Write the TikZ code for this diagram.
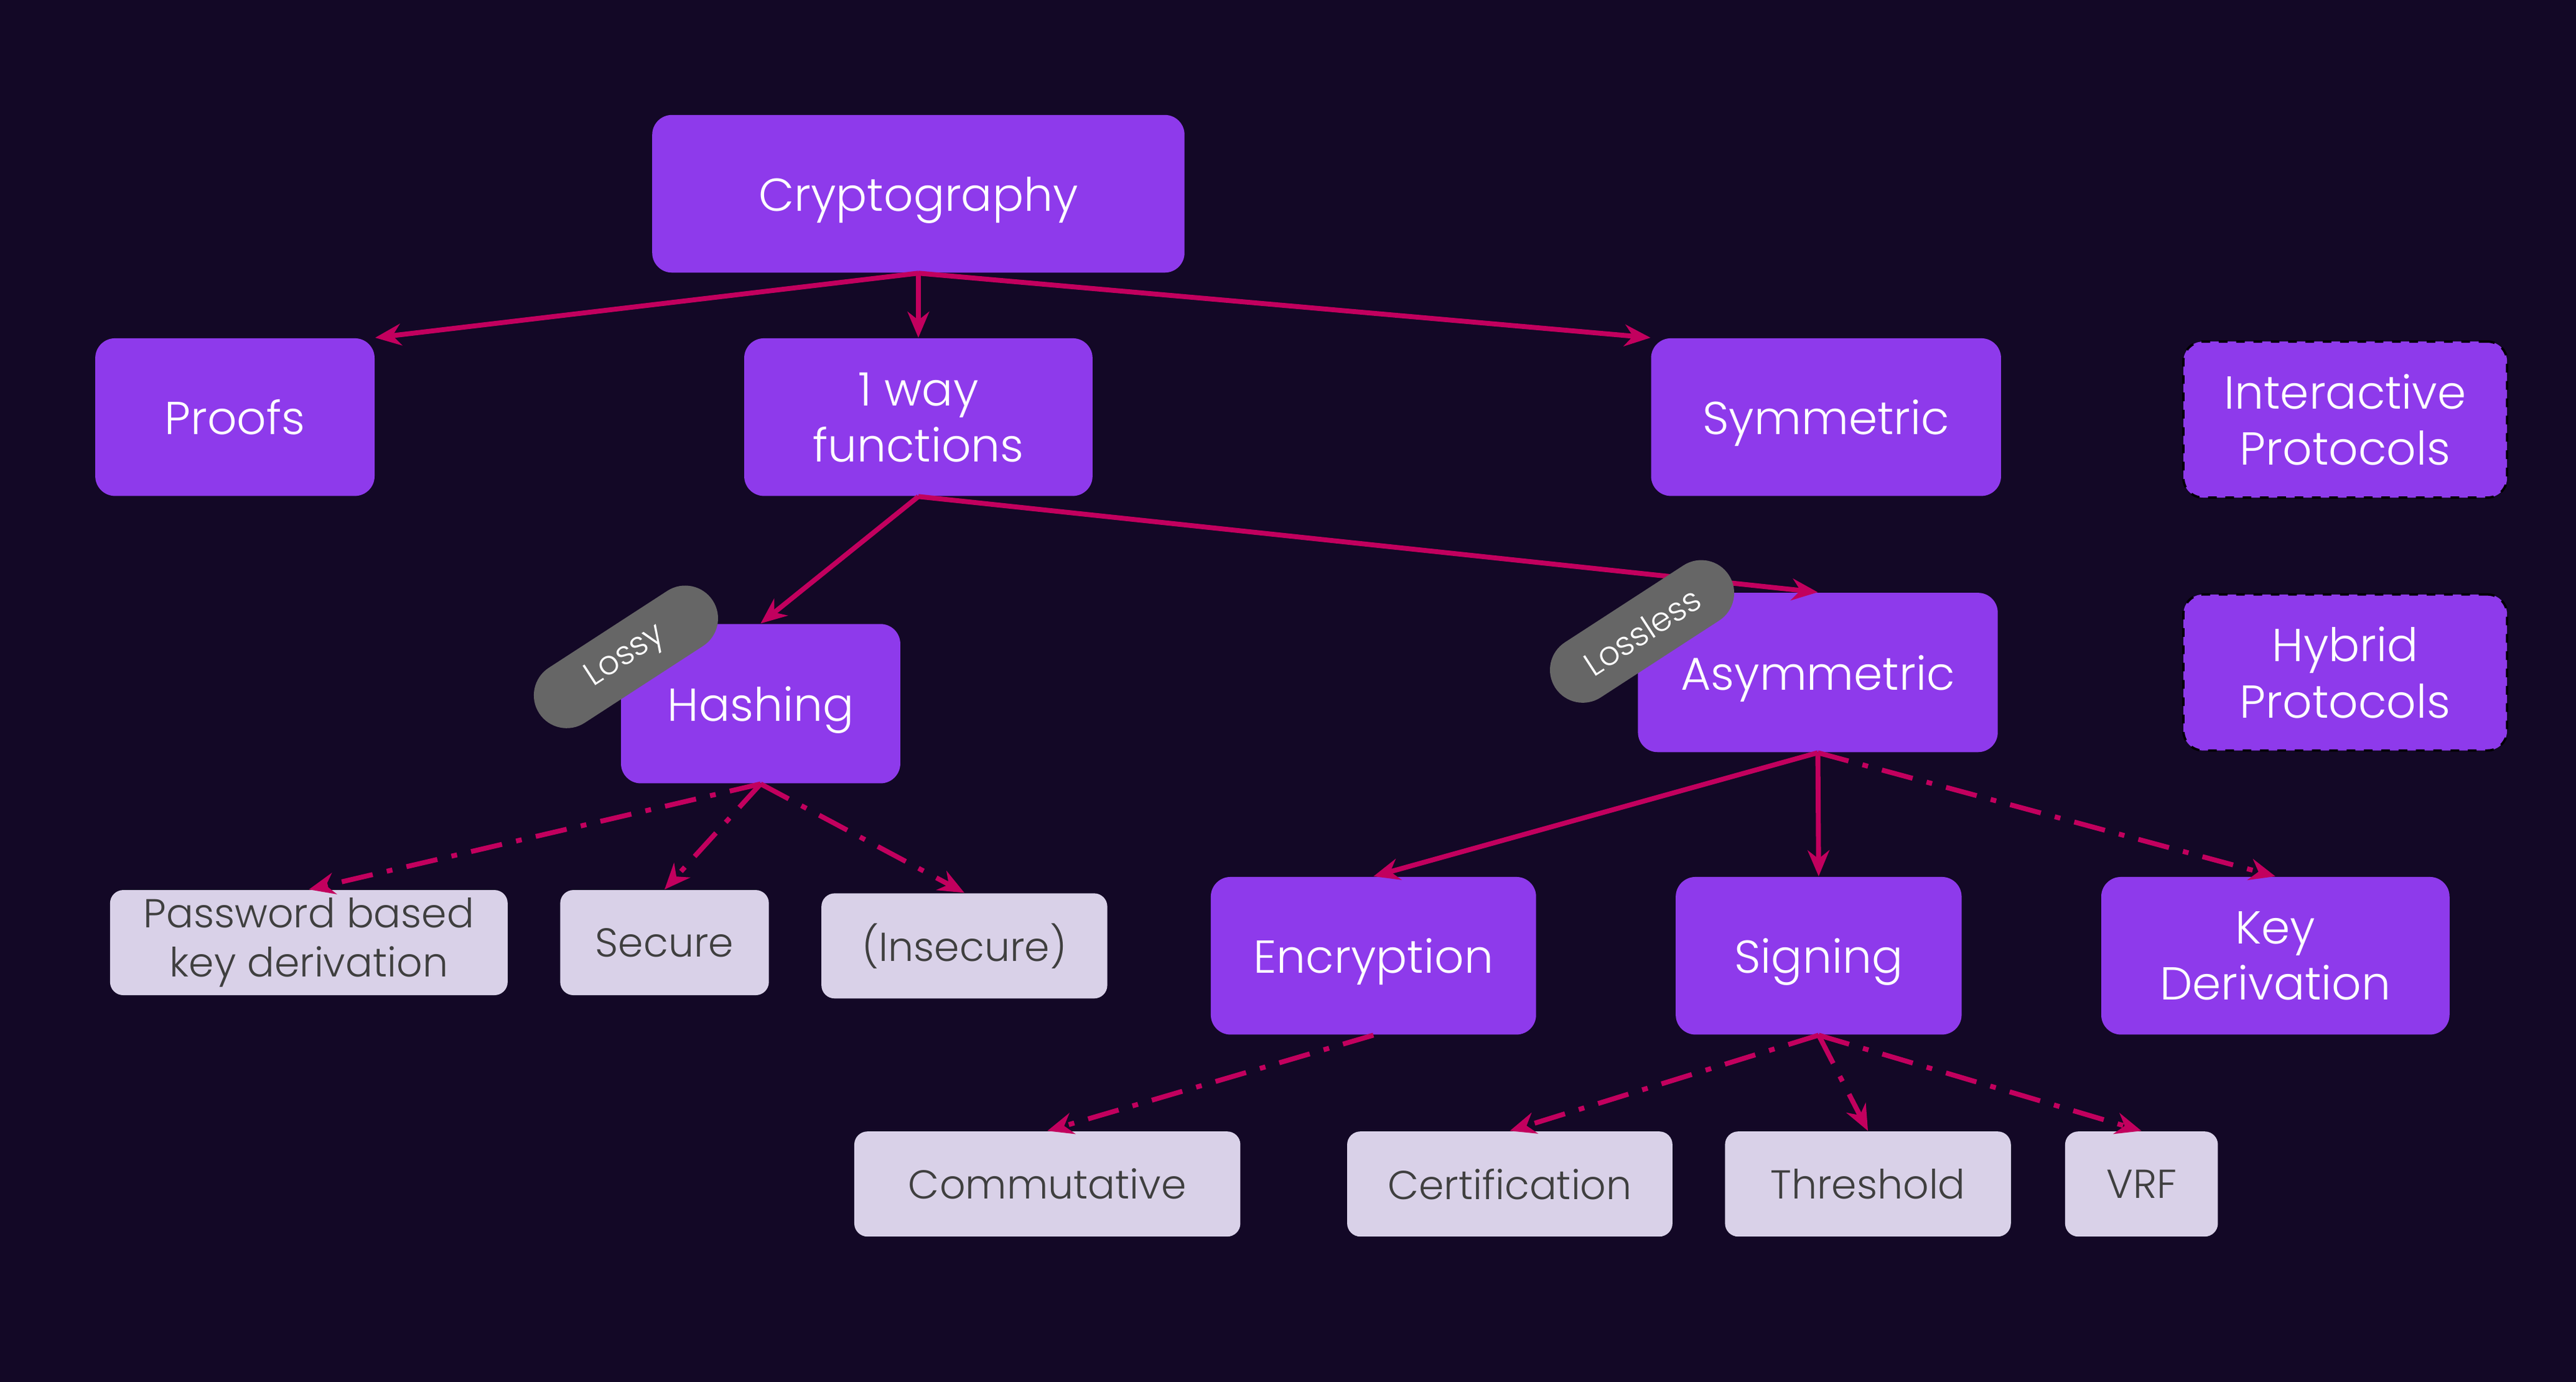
\documentclass[tikz,border=0pt]{standalone}
\usepackage{fontspec}
\setmainfont{Poppins}[UprightFont=* Light]
\usetikzlibrary{arrows.meta,positioning}

\definecolor{bgdark}{HTML}{130826}
\definecolor{boxpurple}{HTML}{8E3AEB}
\definecolor{leafgrey}{HTML}{D9D1E8}
\definecolor{leaftext}{HTML}{3F3F3F}
\definecolor{linkred}{HTML}{C2005E}
\definecolor{taggrey}{HTML}{666666}

\tikzset{
  main/.style={fill=boxpurple, text=white, rounded corners=0.24cm, align=center,
    inner sep=0pt, text depth=0pt, font=\fontsize{16}{19.5}\selectfont},
  proto/.style={main, draw=black, dashed, line width=0.8pt},
  leaf/.style={fill=leafgrey, text=leaftext, rounded corners=0.16cm, align=center,
    inner sep=0pt, minimum height=1.28cm, font=\fontsize{14}{17}\selectfont},
  tag/.style={fill=taggrey, text=white, rounded corners=0.4cm, rotate=33,
    minimum width=2.52cm, minimum height=0.8cm, font=\fontsize{11.5}{13}\selectfont},
  link/.style={draw=linkred, line width=1.7pt, -{Stealth[length=9pt,width=7.5pt]}},
  weak/.style={link, dash pattern=on 11pt off 5pt on 2pt off 5pt}
}

\begin{document}
\begin{tikzpicture}
\fill[bgdark] (0,0) rectangle (31.36,-16.83);
\useasboundingbox (0,0) rectangle (31.36,-16.83);

% top levels
\node[main, minimum width=6.48cm, minimum height=1.92cm] (crypto) at (11.18,-2.36) {Cryptography};
\node[main, minimum width=3.40cm, minimum height=1.92cm] (proofs) at (2.86,-5.08) {Proofs};
\node[main, minimum width=4.24cm, minimum height=1.92cm] (oneway) at (11.18,-5.08) {1 way\\functions};
\node[main, minimum width=4.26cm, minimum height=1.92cm] (symm) at (22.23,-5.08) {Symmetric};
\node[proto, minimum width=3.94cm, minimum height=1.90cm] (inter) at (28.55,-5.11) {Interactive\\Protocols};
\node[proto, minimum width=3.94cm, minimum height=1.90cm] (hybrid) at (28.55,-8.19) {Hybrid\\Protocols};

\node[main, minimum width=3.40cm, minimum height=1.94cm] (hash) at (9.26,-8.57) {Hashing};
\node[main, minimum width=4.38cm, minimum height=1.94cm] (asym) at (22.13,-8.19) {Asymmetric};

% hashing leaves
\node[leaf, minimum width=4.84cm] (pwd) at (3.76,-11.48) {Password based\\key derivation};
\node[leaf, minimum width=2.54cm] (secure) at (8.09,-11.48) {Secure};
\node[leaf, minimum width=3.48cm] (insecure) at (11.74,-11.52) {(Insecure)};

% asymmetric children
\node[main, minimum width=3.96cm, minimum height=1.92cm] (enc) at (16.72,-11.64) {Encryption};
\node[main, minimum width=3.48cm, minimum height=1.92cm] (sign) at (22.14,-11.64) {Signing};
\node[main, minimum width=4.24cm, minimum height=1.92cm] (keyder) at (27.70,-11.64) {Key\\Derivation};

\node[leaf, minimum width=4.70cm] (comm) at (12.75,-14.42) {Commutative};
\node[leaf, minimum width=3.96cm] (cert) at (18.38,-14.42) {Certification};
\node[leaf, minimum width=3.48cm] (thresh) at (22.74,-14.42) {Threshold};
\node[leaf, minimum width=1.86cm] (vrf) at (26.07,-14.42) {VRF};

\draw[link] (crypto.south) -- (proofs.north east);
\draw[link] (crypto.south) -- (oneway.north);
\draw[link] (crypto.south) -- (symm.north west);
\draw[link] (oneway.south) -- (hash.north);
\draw[link] (oneway.south) -- (asym.north);

\draw[weak] (hash.south) -- (pwd.north);
\draw[weak] (hash.south) -- (secure.north);
\draw[weak] (hash.south) -- (insecure.north);

\draw[link] (asym.south) -- (enc.north);
\draw[link] (asym.south) -- (sign.north);
\draw[weak] (asym.south) -- (keyder.north);

\draw[weak] (enc.south) -- (comm.north);
\draw[weak] (sign.south) -- (cert.north);
\draw[weak] (sign.south) -- (thresh.north);
\draw[weak] (sign.south) -- (vrf.north);

% edge tags
\node[tag] (lossy) at (7.62,-8.00) {Lossy};
\node[tag] (lossless) at (19.99,-7.69) {Lossless};
\end{tikzpicture}
\end{document}
